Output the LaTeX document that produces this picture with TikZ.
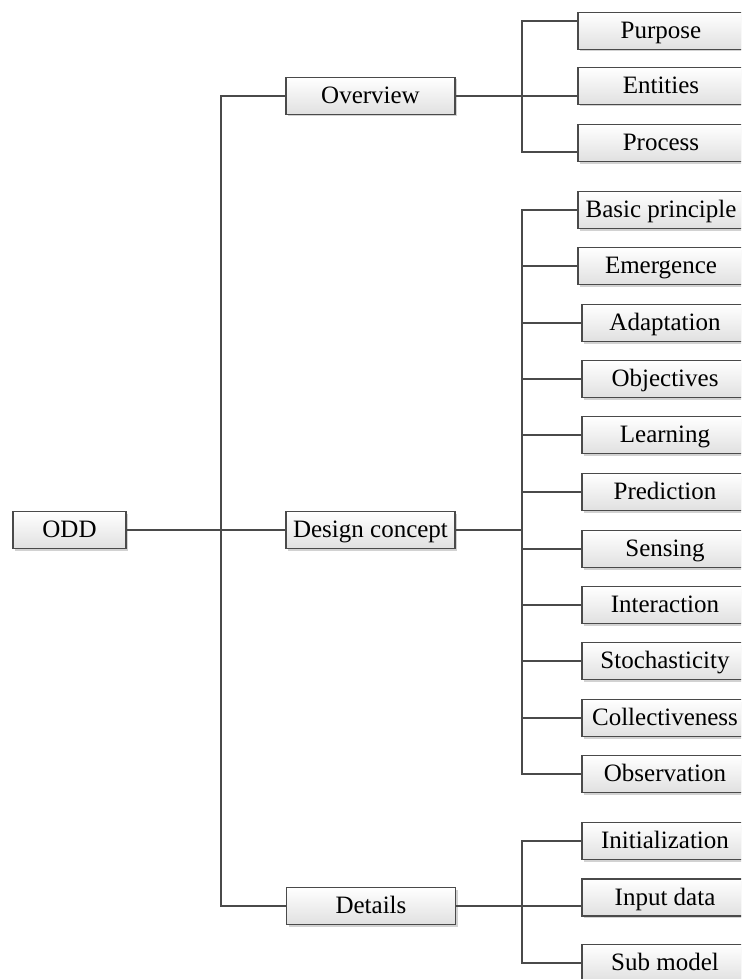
\documentclass[tikz,border=0pt]{standalone}
\usepackage{fontspec}
\setmainfont{Liberation Serif}
\usetikzlibrary{shadows}
\definecolor{trait}{HTML}{4A4A4A}
\begin{document}
\begin{tikzpicture}[x=1pt, y=-1pt, very thick]
  \tikzstyle{boite}=[draw=trait, line width=1.1pt, minimum height=37pt, inner sep=0, text height=15.5pt, text depth=0pt, top color=white, bottom color=black!12, drop shadow={shadow xshift=2pt, shadow yshift=-2pt, fill=black!35, opacity=.5}, font=\fontsize{25}{29}\selectfont];
  \tikzstyle{feuille}=[boite, minimum width=166pt];
  \tikzstyle{lien}=[draw=trait, line width=1.3pt];

  \useasboundingbox (0,0) rectangle (741,979);
  \clip (0,0) rectangle (741,979);

  \node[boite, minimum width=113pt] (ODD) at (69.5, 530) {ODD};
  \node[boite, minimum width=169pt] (OV) at (370.5, 96) {Overview};
  \node[boite, minimum width=169pt] (DC) at (370.5, 530) {Design concept};
  \node[boite, minimum width=169pt] (DT) at (371, 906) {Details};

  \node[feuille] (PU) at (661, 31) {Purpose};
  \node[feuille] (EN) at (661, 86) {Entities};
  \node[feuille] (PR) at (661, 143) {Process};

  \node[feuille] (BP) at (661, 210) {Basic principle};
  \node[feuille] (EM) at (661, 266) {Emergence};
  \node[feuille] (AD) at (665, 323) {Adaptation};
  \node[feuille] (OB) at (665, 379) {Objectives};
  \node[feuille] (LE) at (665, 435) {Learning};
  \node[feuille] (PD) at (665, 492) {Prediction};
  \node[feuille] (SE) at (665, 549) {Sensing};
  \node[feuille] (IT) at (665, 605) {Interaction};
  \node[feuille] (ST) at (665, 661) {Stochasticity};
  \node[feuille] (CO) at (665, 718) {Collectiveness};
  \node[feuille] (OS) at (665, 774) {Observation};

  \node[feuille] (IN) at (665, 841) {Initialization};
  \node[feuille] (ID) at (665, 897.5) {Input data};
  \node[feuille] (SM) at (665, 963) {Sub model};

  \coordinate (tronc) at (221, 530);
  \coordinate (f1) at (522, 96);
  \coordinate (f2) at (522, 530);
  \coordinate (f3) at (522, 906);

  \draw[lien] (ODD) -- (DC);
  \draw[lien] (OV.west) -| (tronc) |- (DT.west);

  \draw[lien] (OV) -- ([yshift=-10pt]EN.west);
  \draw[lien] ([yshift=10pt]PU.west) -| (f1) |- ([yshift=-9pt]PR.west);

  \draw[lien] (DC) -- (f2);
  \draw[lien] (BP) -| (f2) |- (OS);
  \draw[lien] (EM -| f2) -- (EM);
  \draw[lien] (AD -| f2) -- (AD);
  \draw[lien] (OB -| f2) -- (OB);
  \draw[lien] (LE -| f2) -- (LE);
  \draw[lien] (PD -| f2) -- (PD);
  \draw[lien] (SE -| f2) -- (SE);
  \draw[lien] (IT -| f2) -- (IT);
  \draw[lien] (ST -| f2) -- (ST);
  \draw[lien] (CO -| f2) -- (CO);

  \draw[lien] (DT) -- ([yshift=-8.5pt]ID.west);
  \draw[lien] (IN) -| (f3) |- (SM);
\end{tikzpicture}
\end{document}
